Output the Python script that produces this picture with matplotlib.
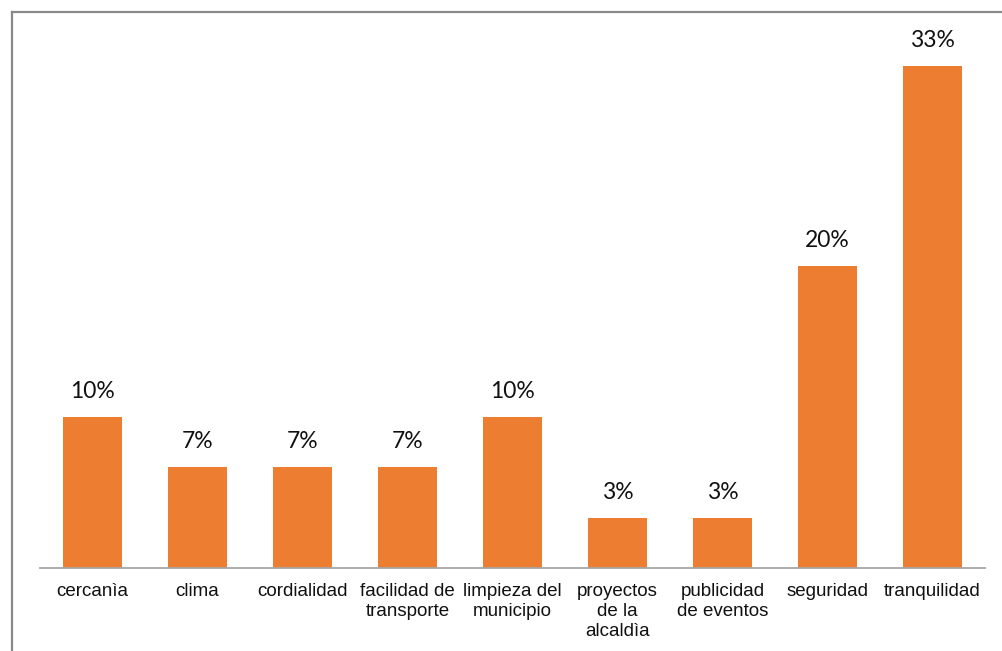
import matplotlib.pyplot as plt
from matplotlib.lines import Line2D

# data
categories = ["cercanìa", "clima", "cordialidad", "facilidad de\ntransporte",
              "limpieza del\nmunicipio", "proyectos\nde la\nalcaldìa",
              "publicidad\nde eventos", "seguridad", "tranquilidad"]
values = [10.0, 6.7, 6.7, 6.7, 10.0, 3.3, 3.3, 20.0, 33.3]

W, H = 1002, 651
fig = plt.figure(figsize=(W / 100, H / 100), dpi=100)

# axes placed in pixel terms: x 40..985, baseline at y=568
ymax = 35
top_px = 568 - ymax * 15.09
ax = fig.add_axes([40 / W, 1 - 568 / H, 945 / W, (568 - top_px) / H])

x = range(len(categories))
bars = ax.bar(x, values, width=0.571, color="#ED7D31")
ax.set_xlim(-0.5, len(categories) - 0.5)
ax.set_ylim(0, ymax)

for b, v in zip(bars, values):
    ax.annotate(f"{round(v)}%", (b.get_x() + b.get_width() / 2, v),
                xytext=(0, 13.5), textcoords="offset points",
                ha="center", va="baseline", fontsize=16.5,
                family="Lato", color="#111111")

ax.set_xticks(list(x))
ax.set_xticklabels(categories, family="Liberation Sans", fontsize=13.5,
                   linespacing=1.22, color="#111111")
ax.tick_params(axis="x", length=0, pad=11)
ax.set_yticks([])
for s in ["top", "right", "left"]:
    ax.spines[s].set_visible(False)
ax.spines["bottom"].set_color("#A6A6A6")
ax.spines["bottom"].set_linewidth(1.3)

# outer chart border (cropped at right and bottom)
fig.add_artist(Line2D([11.5 / W, 11.5 / W], [0, 1 - 11.5 / H],
                      color="#898989", lw=1.6, transform=fig.transFigure))
fig.add_artist(Line2D([11.5 / W, 1], [1 - 11.5 / H, 1 - 11.5 / H],
                      color="#898989", lw=1.6, transform=fig.transFigure))

fig.savefig("out.png", dpi=100)
